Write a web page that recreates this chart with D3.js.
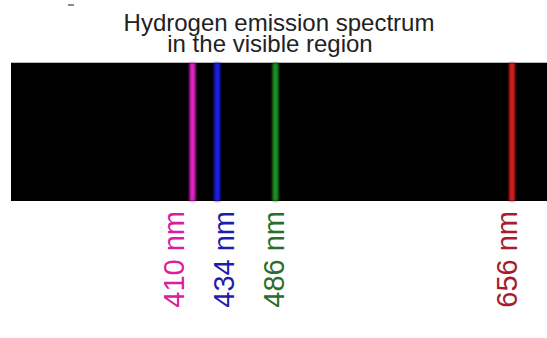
<!DOCTYPE html>
<html>
<head>
<meta charset="utf-8">
<script src="https://cdn.jsdelivr.net/npm/d3@7"></script>
<style>
  html, body { margin: 0; padding: 0; background: #fff; }
  svg { display: block; }
  text { font-family: "Liberation Sans", Arial, sans-serif; }
</style>
</head>
<body>
<svg class="spectrum-svg" width="547" height="338"></svg>
<script>
// wavelengths of the visible hydrogen lines (nm)
const wavelengths = [410, 434, 486, 656];
const lineColors = ['#e024c4', '#1c1ce8', '#1f8f24', '#cc1a1a'];
const labelColors = ['#d8209e', '#1e1eac', '#2a6e2a', '#a81c2c'];
const titleLines = ['Hydrogen emission spectrum', 'in the visible region'];

const band = { x0: 11, x1: 547, y0: 63, y1: 201 };
const lineWidth = 6;

const svg = d3.select('.spectrum-svg');

// the picture's line spacing grows roughly with the square of the wavelength
const x = d3.scalePow()
  .exponent(2)
  .domain([410, 656])
  .range([192.5, 512]);

// soft edges for the lines
svg.append('defs')
  .append('filter')
  .attr('id', 'glow')
  .attr('x', '-60%').attr('width', '220%')
  .append('feGaussianBlur')
  .attr('stdDeviation', 0.9);

// little stray mark at the top
svg.append('line')
  .attr('x1', 68).attr('x2', 74)
  .attr('y1', 5).attr('y2', 5)
  .attr('stroke', '#666')
  .attr('stroke-width', 1.5);

// title, two lines in one text block
svg.append('text')
  .attr('class', 'title')
  .attr('text-anchor', 'middle')
  .attr('font-size', 24)
  .attr('fill', '#222')
  .selectAll('tspan')
  .data(titleLines)
  .enter()
  .append('tspan')
  .attr('x', (d, i) => (i === 0 ? 279 : 270))
  .attr('y', (d, i) => 31 + i * 21)
  .text((d) => d);

// black band
svg.append('line')
  .attr('x1', band.x0).attr('x2', band.x1)
  .attr('y1', band.y0 - 0.5).attr('y2', band.y0 - 0.5)
  .attr('stroke', '#bbb');

svg.append('rect')
  .attr('x', band.x0)
  .attr('y', band.y0)
  .attr('width', band.x1 - band.x0)
  .attr('height', band.y1 - band.y0)
  .attr('fill', '#000');

// emission lines
svg.selectAll('rect.emission')
  .data(wavelengths)
  .enter()
  .append('rect')
  .attr('class', 'emission')
  .attr('x', (d) => x(d) - lineWidth / 2)
  .attr('y', band.y0)
  .attr('width', lineWidth)
  .attr('height', band.y1 - band.y0)
  .attr('fill', (d, i) => lineColors[i])
  .attr('filter', 'url(#glow)');

// label layout: slightly left of each line, crowded labels spread evenly
// around the mean of their wanted positions
const minGap = 50;
let clusters = wavelengths.map((d) => ({ sum: x(d) - 5, n: 1 }));
const spot = (c, k) => c.sum / c.n + (k - (c.n - 1) / 2) * minGap;
let merged = true;
while (merged) {
  merged = false;
  for (let i = 0; i < clusters.length - 1; i++) {
    const a = clusters[i];
    const b = clusters[i + 1];
    if (spot(a, a.n - 1) + minGap > spot(b, 0)) {
      clusters.splice(i, 2, { sum: a.sum + b.sum, n: a.n + b.n });
      merged = true;
      break;
    }
  }
}
const labelX = [];
clusters.forEach((c) => {
  for (let k = 0; k < c.n; k++) labelX.push(spot(c, k));
});

svg.selectAll('text.label')
  .data(wavelengths)
  .enter()
  .append('text')
  .attr('class', 'label')
  .attr('transform', (d, i) => `translate(${labelX[i]},${band.y1 + 10}) rotate(-90)`)
  .attr('text-anchor', 'end')
  .attr('dy', '0.35em')
  .attr('font-size', 29)
  .attr('fill', (d, i) => labelColors[i])
  .text((d) => `${d} nm`);
</script>
</body>
</html>
